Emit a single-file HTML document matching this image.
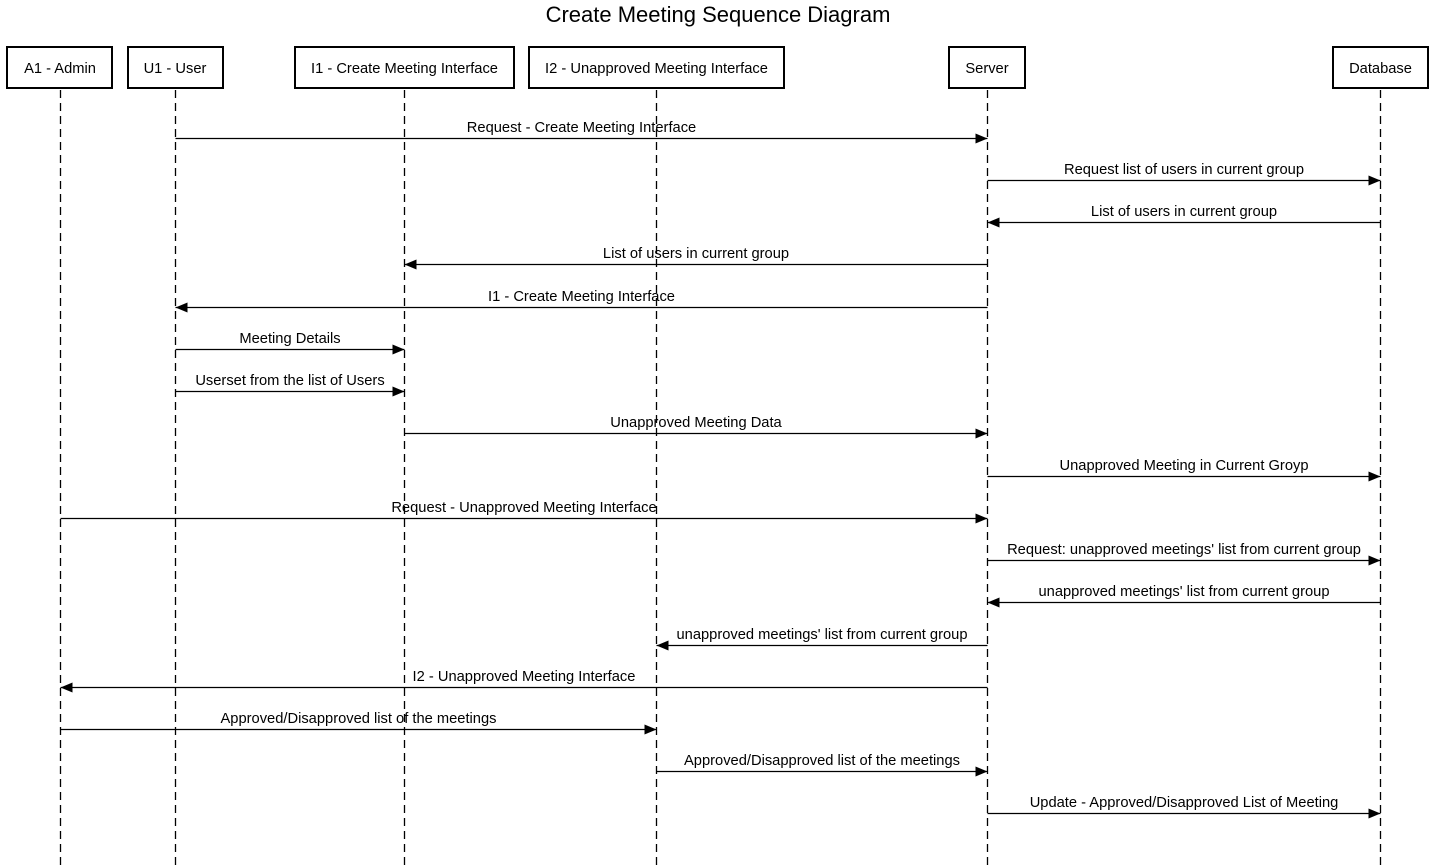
<!DOCTYPE html>
<html><head><style>body{margin:0;background:#fff}svg{display:block}text{font-family:"Liberation Sans",sans-serif;fill:#000}</style></head><body>
<svg width="1436" height="866" xmlns="http://www.w3.org/2000/svg">
<defs><marker id="a" markerWidth="12" markerHeight="10" refX="12" refY="5" orient="auto" markerUnits="userSpaceOnUse"><path d="M0,0L12,5L0,10z" fill="#000"/></marker></defs>
<text x="718" y="22" font-size="22" text-anchor="middle">Create Meeting Sequence Diagram</text>
<g fill="#fff" stroke="#000" stroke-width="2">
<rect x="7" y="47" width="105" height="41"/><rect x="128" y="47" width="95" height="41"/><rect x="295" y="47" width="219" height="41"/><rect x="529" y="47" width="255" height="41"/><rect x="949" y="47" width="76" height="41"/><rect x="1333" y="47" width="95" height="41"/>
</g>
<g font-size="14.7" text-anchor="middle">
<text x="60" y="73">A1 - Admin</text><text x="175" y="73">U1 - User</text><text x="404.5" y="73">I1 - Create Meeting Interface</text><text x="656.5" y="73">I2 - Unapproved Meeting Interface</text><text x="987" y="73">Server</text><text x="1380.5" y="73">Database</text>
</g>
<g stroke="#000" stroke-width="1.3" stroke-dasharray="8,5">
<line x1="60.5" y1="90" x2="60.5" y2="866"/><line x1="175.5" y1="90" x2="175.5" y2="866"/><line x1="404.5" y1="90" x2="404.5" y2="866"/><line x1="656.5" y1="90" x2="656.5" y2="866"/><line x1="987.5" y1="90" x2="987.5" y2="866"/><line x1="1380.5" y1="90" x2="1380.5" y2="866"/>
</g>
<g id="m" stroke="#000" stroke-width="1.3" marker-end="url(#a)"></g>
<g id="t" font-size="14.7" text-anchor="middle"></g>
<script>
var X={A:60.5,U:175.5,I1:404.5,I2:656.5,S:987.5,D:1380.5};
var M=[[138,'U','S','Request - Create Meeting Interface'],[180,'S','D','Request list of users in current group'],[222,'D','S','List of users in current group'],[264,'S','I1','List of users in current group'],[307,'S','U','I1 - Create Meeting Interface'],[349,'U','I1','Meeting Details'],[391,'U','I1','Userset from the list of Users'],[433,'I1','S','Unapproved Meeting Data'],[476,'S','D','Unapproved Meeting in Current Groyp'],[518,'A','S','Request - Unapproved Meeting Interface'],[560,'S','D',"Request: unapproved meetings' list from current group"],[602,'D','S',"unapproved meetings' list from current group"],[645,'S','I2',"unapproved meetings' list from current group"],[687,'S','A','I2 - Unapproved Meeting Interface'],[729,'A','I2','Approved/Disapproved list of the meetings'],[771,'I2','S','Approved/Disapproved list of the meetings'],[813,'S','D','Update - Approved/Disapproved List of Meeting']];
var ns='http://www.w3.org/2000/svg',g=document.getElementById('m'),t=document.getElementById('t');
M.forEach(function(m){var y=m[0]+0.5;var l=document.createElementNS(ns,'line');l.setAttribute('x1',X[m[1]]);l.setAttribute('x2',X[m[2]]);l.setAttribute('y1',y);l.setAttribute('y2',y);g.appendChild(l);
var s=document.createElementNS(ns,'text');s.setAttribute('x',(X[m[1]]+X[m[2]])/2);s.setAttribute('y',m[0]-6);s.textContent=m[3];t.appendChild(s);});
</script>
</svg>
</body></html>
